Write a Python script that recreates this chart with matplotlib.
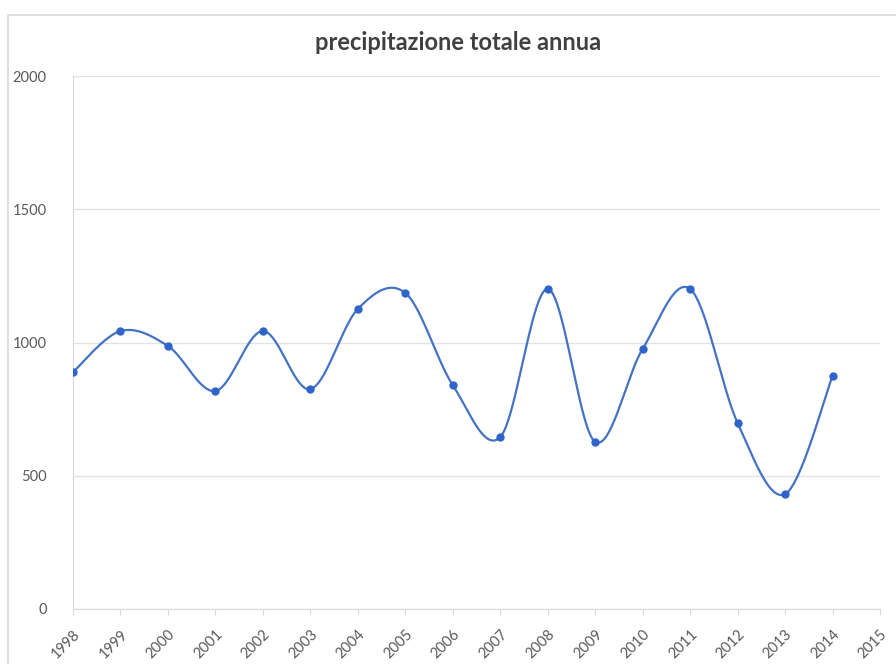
import numpy as np
import matplotlib
matplotlib.use("Agg")
import matplotlib.pyplot as plt

# Precipitazione totale annua (mm)
anni = [1998, 1999, 2000, 2001, 2002, 2003, 2004, 2005, 2006, 2007,
        2008, 2009, 2010, 2011, 2012, 2013, 2014]
precipitazione = [889, 1043, 987, 818, 1043, 825, 1126, 1186, 840, 645,
                  1201, 627, 976, 1201, 698, 431, 874]
anni_ticks = list(range(1998, 2016))
y_ticks = [0, 500, 1000, 1500, 2000]


def curva_smussata(x, y, passi=40):
    # spline tipo Catmull-Rom (come la linea smussata di Excel)
    x = np.asarray(x, float)
    y = np.asarray(y, float)
    px = np.concatenate([[x[0]], x, [x[-1]]])
    py = np.concatenate([[y[0]], y, [y[-1]]])
    xs, ys = [], []
    t = np.linspace(0, 1, passi)
    for i in range(1, len(px) - 2):
        p0 = np.array([px[i], py[i]])
        p3 = np.array([px[i + 1], py[i + 1]])
        c1 = p0 + (np.array([px[i + 1], py[i + 1]]) - np.array([px[i - 1], py[i - 1]])) / 6
        c2 = p3 - (np.array([px[i + 2], py[i + 2]]) - np.array([px[i], py[i]])) / 6
        b = ((1 - t) ** 3)[:, None] * p0 + (3 * (1 - t) ** 2 * t)[:, None] * c1 \
            + (3 * (1 - t) * t ** 2)[:, None] * c2 + (t ** 3)[:, None] * p3
        xs.extend(b[:, 0])
        ys.extend(b[:, 1])
    return xs, ys


plt.rcParams['font.family'] = ['Lato', 'DejaVu Sans']

fig = plt.figure(figsize=(8.96, 6.64), dpi=100)
ax = fig.add_axes([73 / 896, 1 - 609 / 664, (880 - 73) / 896, (609 - 76) / 664])

# bordo grigio dell'area del grafico
fig.patches.append(plt.Rectangle((8 / 896, -0.01), 1.0, 1 - 15 / 664 + 0.01,
                                 transform=fig.transFigure, fill=False,
                                 edgecolor="#d9d9d9", linewidth=1.2))

xs, ys = curva_smussata(anni, precipitazione)
ax.plot(xs, ys, color="#4472c4", linewidth=1.6, zorder=3)
ax.plot(anni, precipitazione, linestyle="none", marker="o", markersize=5,
        color="#2f64c8", zorder=4)

ax.set_xlim(1998, 2015)
ax.set_ylim(0, 2000)
ax.set_xticks(anni_ticks)
ax.set_xticklabels([str(a) for a in anni_ticks], rotation=45, ha="right",
                   rotation_mode="anchor")
ax.set_yticks(y_ticks)
ax.tick_params(axis="x", colors="#595959", labelsize=10.5, length=4, pad=9,
               color="#d9d9d9", direction="out")
ax.tick_params(axis="y", colors="#595959", labelsize=10.5, length=0, pad=19)
ax.grid(axis="y", color="#e3e3e3", linewidth=1.0)
ax.set_axisbelow(True)

for lato in ["top", "right"]:
    ax.spines[lato].set_visible(False)
ax.spines["left"].set_color("#d9d9d9")
ax.spines["bottom"].set_color("#d9d9d9")

fig.text(458 / 896, 1 - 42 / 664, "precipitazione totale annua", ha="center",
         va="center", fontsize=17, fontweight="bold", color="#404040")

fig.savefig("out.png", dpi=100)
